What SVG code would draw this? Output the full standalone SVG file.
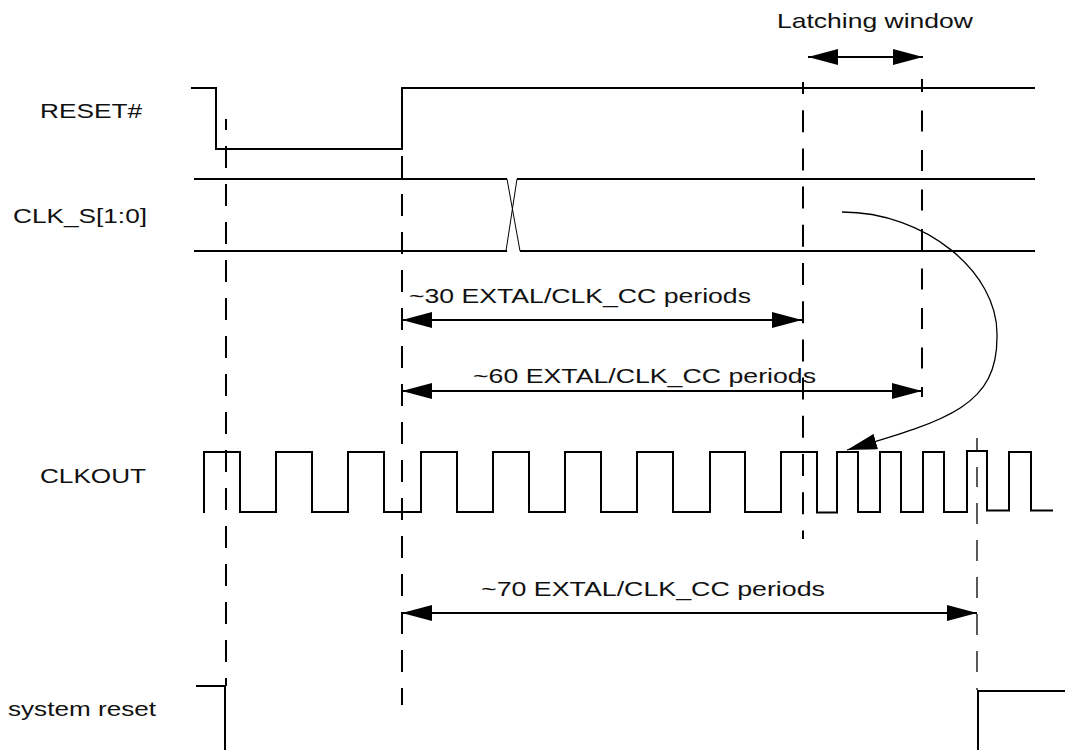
<svg xmlns="http://www.w3.org/2000/svg" width="1065" height="750" viewBox="0 0 1065 750">
<style>
.sig{fill:none;stroke:#000;stroke-width:2;stroke-linejoin:miter;stroke-linecap:butt}
.thin{fill:none;stroke:#000;stroke-width:1}
.dash{fill:none;stroke:#000;stroke-width:2;stroke-dasharray:22 16}
.dim{fill:none;stroke:#000;stroke-width:2}
.lbl{font-family:"Liberation Sans",Arial,Helvetica,sans-serif;font-size:21px;fill:#111}
</style>
<defs>
<marker id="ah" markerUnits="userSpaceOnUse" markerWidth="30" markerHeight="16" refX="30" refY="8" orient="auto-start-reverse" viewBox="0 0 30 16">
<path d="M0,0 L30,8 L0,16 Z" fill="#000"/>
</marker>
</defs>
<rect width="1065" height="750" fill="#fff"/>

<g id="reset">
<path class="sig" d="M191,88 H216 V149 H402 V88 H1035"/>
<text class="lbl" x="40" y="118" textLength="102" lengthAdjust="spacingAndGlyphs">RESET#</text>
</g>

<g id="clks">
<path class="sig" d="M194,179 H507 M517,179 H1035 M194,251 H507 M520,251 H1035"/>
<path class="thin" d="M507,179 L520,251 M517,179 L506,251"/>
<text class="lbl" x="13" y="223" textLength="134" lengthAdjust="spacingAndGlyphs">CLK_S[1:0]</text>
</g>

<g id="clkout">
<path class="sig" d="M204,513 V452 H240 V512 H276 V452 H312 V512 H348 V452 H384 V512 H421 V452 H457 V512 H493 V452 H529 V512 H565 V452 H601 V512 H637 V452 H673 V512 H710 V452 H745 V512 H781 V452 H817 V512.5 H837 V452 H858 V512 H880 V452 H901 V512 H923 V452 H944 V512 H967 V451 H987 V510.5 H1009 V452 H1031 V510.5 H1053"/>
<text class="lbl" x="40" y="483" textLength="106" lengthAdjust="spacingAndGlyphs">CLKOUT</text>
</g>

<g id="sysreset">
<path class="sig" d="M196,686 H226 M225,686 V750"/>
<path class="sig" d="M978,750 V691 H1065"/>
<text class="lbl" x="8" y="716" textLength="148" lengthAdjust="spacingAndGlyphs">system reset</text>
</g>

<g id="latching">
<text class="lbl" x="777" y="28" textLength="196" lengthAdjust="spacingAndGlyphs">Latching window</text>
</g>

<g id="connectors">
<!-- vertical dashed timing lines -->
<path class="dash" d="M226,119 V686" style="stroke-dashoffset:11"/>
<path class="dash" d="M402,156 V705"/>
<path class="dash" d="M803,82 V539" style="stroke-dasharray:22 16.2;stroke-dashoffset:10"/>
<path class="dash" d="M922,79 V397" style="stroke-dasharray:21 18.5;stroke-dashoffset:8"/>
<path class="dash" d="M977,438 V690" style="stroke-width:1.3;stroke-dasharray:13 16 20 16 21 16 21 16 21 16 21 16 21 16 21 16"/>
<!-- dimension arrows -->
<path class="dim" d="M808,57 H923" marker-start="url(#ah)" marker-end="url(#ah)"/>
<path class="dim" d="M402,320 H802" marker-start="url(#ah)" marker-end="url(#ah)"/>
<path class="dim" d="M402,391 H922" marker-start="url(#ah)" marker-end="url(#ah)"/>
<path class="dim" d="M402,613 H977" marker-start="url(#ah)" marker-end="url(#ah)"/>
<!-- curved causality arrow -->
<path class="thin" style="stroke-width:1.3" d="M842,212 C925,212 998,272 997,335 C998,405 950,420 847,450" marker-end="url(#ah)"/>
<text class="lbl" x="409" y="303" textLength="342" lengthAdjust="spacingAndGlyphs">~30 EXTAL/CLK_CC periods</text>
<text class="lbl" x="473" y="383" textLength="343" lengthAdjust="spacingAndGlyphs">~60 EXTAL/CLK_CC periods</text>
<text class="lbl" x="481" y="596" textLength="344" lengthAdjust="spacingAndGlyphs">~70 EXTAL/CLK_CC periods</text>
</g>
</svg>
